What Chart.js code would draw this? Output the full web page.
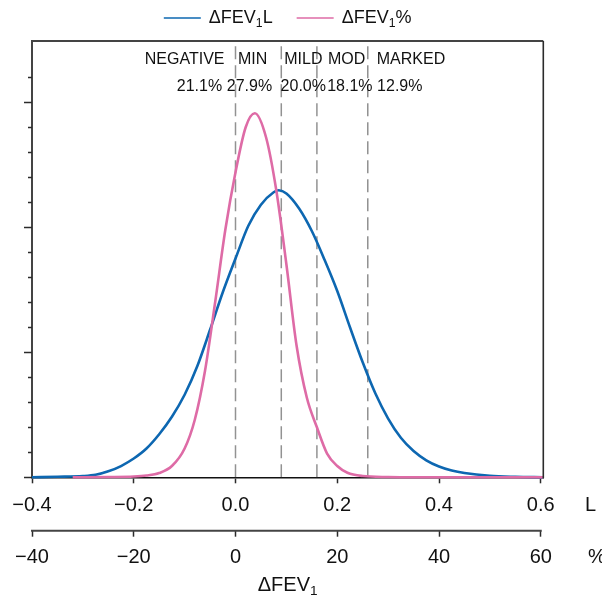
<!DOCTYPE html>
<html>
<head>
<meta charset="utf-8">
<script src="https://cdn.jsdelivr.net/npm/chart.js@4.4.1/dist/chart.umd.min.js"></script>
<style>
  html, body { margin: 0; padding: 0; background: #fff; }
</style>
</head>
<body>
<canvas id="c" width="602" height="601"></canvas>
<script>
/* ---------------- data ---------------- */
// ΔFEV1 in litres – density curve (arbitrary y units)
const L_X = [-0.40, -0.35, -0.30, -0.275, -0.25, -0.225, -0.20, -0.175, -0.15, -0.125, -0.10, -0.075, -0.05, -0.025,
  0.0, 0.025, 0.05, 0.075, 0.085, 0.10, 0.125, 0.15, 0.175, 0.20, 0.225, 0.25, 0.275, 0.30, 0.325, 0.35, 0.375,
  0.40, 0.425, 0.45, 0.50, 0.55, 0.605];
const L_Y = [0.0, 0.02, 0.05, 0.10, 0.24, 0.45, 0.75, 1.15, 1.72, 2.42, 3.30, 4.45, 5.90, 7.40,
  8.75, 10.05, 10.90, 11.40, 11.48, 11.35, 10.75, 9.85, 8.70, 7.45, 6.00, 4.60, 3.35, 2.35, 1.58, 1.05, 0.68,
  0.43, 0.27, 0.17, 0.06, 0.02, 0.0];

// ΔFEV1 in % – density curve
const P_X = [-32, -25, -20, -17.5, -15, -12.5, -10, -8, -6, -4, -2, 0, 2, 3.8, 6, 8, 10, 12, 14, 16, 18, 20, 22, 25, 30, 35, 45, 60.5];
const P_Y = [0, 0.01, 0.03, 0.07, 0.17, 0.45, 1.15, 2.3, 4.25, 7.0, 9.9, 12.2, 14.0, 14.56, 13.6, 11.5, 8.52, 5.27, 3.2, 2.0, 0.95, 0.45, 0.18, 0.05, 0.01, 0, 0, 0];

// response categories, cut points (L) and shares
const CUTS_L = [0, 0.09, 0.16, 0.26];
const CATEGORIES = ["NEGATIVE", "MIN", "MILD", "MOD", "MARKED"];
const SHARES = ["21.1%", "27.9%", "20.0%", "18.1%", "12.9%"];

const L_TICKS = [-0.4, -0.2, 0, 0.2, 0.4, 0.6];
const P_TICKS = [-40, -20, 0, 20, 40, 60];
const Y_MAX = 17.45;

const SERIES = ["ΔFEV|1|L", "ΔFEV|1|%"];
const COLORS = { L: "#0d67b1", P: "#de6ba6", cut: "#929292", axis: "#2b2b2b" };
const FONT = "'Liberation Sans', Arial, Helvetica, sans-serif";

const minus = (s) => s.replace("-", "\u2212");
const fmtL = (v) => minus(Number(v).toFixed(1));
const fmtP = (v) => minus(String(Math.round(v)));

/* ---------------- helpers ---------------- */
// draws "main|sub|main" strings with a lowered subscript; returns width
function subText(ctx, str, x, y, size, align, measureOnly) {
  const parts = str.split("|");
  const pieces = parts.map((t, i) => ({ t, sub: i % 2 === 1 }));
  let w = 0;
  pieces.forEach((p) => {
    ctx.font = (p.sub ? size * 0.68 : size) + "px " + FONT;
    p.w = ctx.measureText(p.t).width;
    w += p.w;
  });
  if (measureOnly) return w;
  let cx = align === "center" ? x - w / 2 : align === "right" ? x - w : x;
  ctx.textAlign = "left";
  ctx.textBaseline = "middle";
  pieces.forEach((p) => {
    ctx.font = (p.sub ? size * 0.68 : size) + "px " + FONT;
    ctx.fillText(p.t, cx, p.sub ? y + size * 0.3 : y);
    cx += p.w;
  });
  return w;
}

/* ---------------- plugin: frame, y ticks, % axis line, texts ---------------- */
const extras = {
  id: "extras",
  afterDraw(chart) {
    const { ctx, chartArea: a, scales } = chart;
    const xL = scales.xL, xP = scales.xP, y = scales.y;
    ctx.save();

    // top + right frame
    ctx.strokeStyle = "#444";
    ctx.lineWidth = 2;
    ctx.beginPath();
    ctx.moveTo(a.left - 1, a.top);
    ctx.lineTo(a.right, a.top);
    ctx.stroke();
    ctx.lineWidth = 1.6;
    ctx.strokeStyle = COLORS.axis;
    ctx.beginPath();
    ctx.moveTo(a.right, a.top);
    ctx.lineTo(a.right, a.bottom + 1);
    ctx.stroke();

    // y ticks: long every 5, short otherwise
    ctx.strokeStyle = COLORS.axis;
    ctx.lineWidth = 1.5;
    y.ticks.forEach((t) => {
      const py = Math.round(y.getPixelForValue(t.value)) + 0.5;
      const len = t.value % 5 === 0 ? 8 : 4;
      ctx.beginPath();
      ctx.moveTo(a.left - len, py);
      ctx.lineTo(a.left, py);
      ctx.stroke();
    });

    // % axis line, only between first and last tick
    ctx.strokeStyle = "#444";
    ctx.lineWidth = 2;
    ctx.beginPath();
    ctx.moveTo(xP.getPixelForValue(P_TICKS[0]) - 1, xP.top);
    ctx.lineTo(xP.getPixelForValue(P_TICKS[P_TICKS.length - 1]) + 1, xP.top);
    ctx.stroke();

    // unit labels
    ctx.fillStyle = "#111";
    ctx.font = "20px " + FONT;
    ctx.textAlign = "left";
    ctx.textBaseline = "middle";
    ctx.fillText("L", 585, 505);
    ctx.fillText("%", 588, 557);

    // axis title
    subText(ctx, "ΔFEV|1|", (a.left + a.right) / 2, 585, 20, "center");

    // category labels and shares
    const cx = CUTS_L.map((c) => xL.getPixelForValue(c));
    const nameAt = [
      [cx[0] - 11, "right"], [cx[0] + 2.5, "left"], [cx[1] + 3, "left"], [cx[3] - 2.5, "right"], [cx[3] + 9, "left"],
    ];
    const shareAt = [cx[0] - 36, cx[0] + 14, cx[1] + 22, cx[2] + 33, cx[3] + 32];
    ctx.font = "16px " + FONT;
    ctx.fillStyle = "#111";
    CATEGORIES.forEach((name, i) => {
      ctx.textAlign = nameAt[i][1];
      ctx.fillText(name, nameAt[i][0], 60);
    });
    ctx.textAlign = "center";
    SHARES.forEach((s, i) => ctx.fillText(s, shareAt[i], 87));

    // legend
    const lineW = 37, gap = 8, itemGap = 24, size = 18;
    const widths = SERIES.map((s) => subText(ctx, s, 0, 0, size, "left", true));
    const total = widths.reduce((s, w) => s + lineW + gap + w, 0) + itemGap;
    let lx = (a.left + a.right) / 2 - total / 2;
    const ly = 18;
    [COLORS.L, COLORS.P].forEach((col, i) => {
      ctx.strokeStyle = col;
      ctx.lineWidth = 1.5;
      ctx.beginPath();
      ctx.moveTo(lx, ly);
      ctx.lineTo(lx + lineW, ly);
      ctx.stroke();
      ctx.fillStyle = "#111";
      subText(ctx, SERIES[i], lx + lineW + gap, ly, size, "left");
      lx += lineW + gap + widths[i] + itemGap;
    });

    ctx.restore();
  },
};

/* ---------------- chart ---------------- */
const cutSets = CUTS_L.map((c) => ({
  data: [{ x: c, y: 0 }, { x: c, y: Y_MAX }],
  xAxisID: "xL",
  borderColor: COLORS.cut,
  borderWidth: 1.5,
  borderDash: [13, 6],
  pointRadius: 0,
  order: 2,
}));

new Chart(document.getElementById("c"), {
  type: "line",
  data: {
    datasets: [
      {
        label: "ΔFEV1%",
        data: P_X.map((x, i) => ({ x, y: P_Y[i] })),
        xAxisID: "xP",
        borderColor: COLORS.P,
        borderWidth: 2.6,
        pointRadius: 0,
        cubicInterpolationMode: "monotone",
        clip: false,
        order: 0,
      },
      {
        label: "ΔFEV1L",
        data: L_X.map((x, i) => ({ x, y: L_Y[i] })),
        xAxisID: "xL",
        borderColor: COLORS.L,
        borderWidth: 2.6,
        pointRadius: 0,
        cubicInterpolationMode: "monotone",
        clip: false,
        order: 1,
      },
      ...cutSets,
    ],
  },
  options: {
    responsive: false,
    animation: false,
    layout: { padding: { top: 41, right: 58.7, left: 0, bottom: 0 } },
    plugins: { legend: { display: false }, tooltip: { enabled: false } },
    scales: {
      y: {
        min: 0, max: Y_MAX,
        ticks: { display: false, stepSize: 1 },
        afterBuildTicks: (s) => { s.ticks = s.ticks.filter((t) => Number.isInteger(t.value)); },
        afterFit: (s) => { s.width = 32; },
        grid: { display: false },
        border: { display: true, color: "#444", width: 2 },
      },
      xL: {
        type: "linear", position: "bottom", weight: 0,
        min: -0.4, max: 0.605,
        afterBuildTicks: (s) => { s.ticks = L_TICKS.map((v) => ({ value: v })); },
        afterFit: (s) => { s.height = 53.4; },
        grid: { drawOnChartArea: false, tickLength: 6, tickColor: COLORS.axis, tickWidth: 1.5 },
        border: { display: true, color: "#111", width: 1.6 },
        ticks: { padding: 10, color: "#111", font: { family: FONT, size: 20 }, maxRotation: 0, autoSkip: false, callback: fmtL },
      },
      xP: {
        type: "linear", position: "bottom", weight: 1,
        min: -40, max: 60.5,
        afterBuildTicks: (s) => { s.ticks = P_TICKS.map((v) => ({ value: v })); },
        afterFit: (s) => { s.height = 70.3; },
        grid: { drawOnChartArea: false, tickLength: 6, tickColor: COLORS.axis, tickWidth: 1.5 },
        border: { display: false },
        ticks: { padding: 9, color: "#111", font: { family: FONT, size: 20 }, maxRotation: 0, autoSkip: false, callback: fmtP },
      },
    },
  },
  plugins: [extras],
});
</script>
</body>
</html>
